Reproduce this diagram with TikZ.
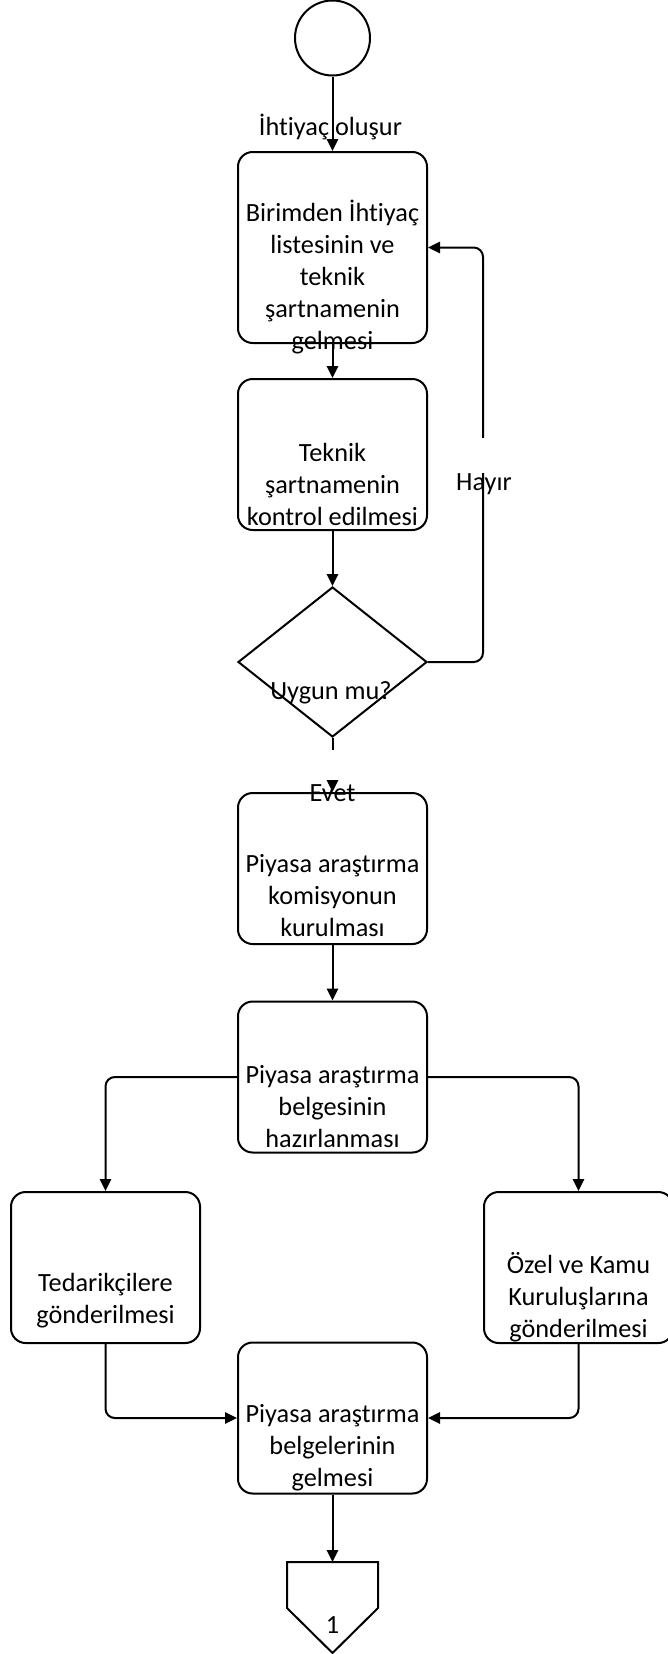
\documentclass[tikz,border=0pt]{standalone}
\usepackage{fontspec}
\setmainfont{Carlito}[Ligatures={NoCommon}]
\usepackage{tikz}
\usetikzlibrary{shapes.geometric,arrows.meta}
\tikzset{
    surec/.style={
        draw=black,
        rectangle,
        rounded corners=11pt,
        minimum width=141.75pt,
        minimum height=113.25pt,
        inner sep=0pt,
        line width=1.5pt
    },
    karar/.style={
        draw=black,
        diamond,
        minimum width=141.75pt,
        minimum height=112.5pt,
        inner sep=0pt,
        line width=1.5pt
    },
    baslangic/.style={
        draw=black,
        circle,
        minimum size=56.25pt,
        inner sep=0pt,
        line width=1.5pt
    },
    yazi/.style={
        align=center,
        font=\fontsize{19.7}{24}\selectfont,
        inner sep=0pt
    },
    ok/.style={
        -{Triangle[length=9pt,width=8.5pt]},
        line width=1.5pt,
        rounded corners=7pt,
        color=black
    },
    bosluk/.style={
        fill=white,
        inner sep=0pt,
        minimum width=6pt
    }
}

\begin{document}
\begin{tikzpicture}[x=0.75pt, y=-0.75pt]
    \useasboundingbox (0,0) rectangle (668,1654);

    % Start
    \node[baslangic] (basla) at (332.5,38) {};

    % Main column
    \node[surec, minimum height=143.25pt] (birim) at (332.5,247.5) {};
    \node[surec] (teknik) at (332.5,454.5) {};
    \node[karar] (uygun) at (332.5,662) {};
    \node[surec] (komisyon) at (332.5,868.5) {};
    \node[surec] (hazirlik) at (332.5,1077) {};

    % Branches
    \node[surec] (tedarik) at (105.5,1267.5) {};
    \node[surec] (kurulus) at (578.5,1267.5) {};
    \node[surec] (belgeler) at (332.5,1418) {};

    % Off-page reference
    \draw[line width=1.5pt] (287,1562) -- (378,1562) -- (378,1608)
        -- (332.5,1653) -- (287,1608) -- cycle;
    \coordinate (sayfa) at (332.5,1562);
    \coordinate (donus) at (483,662);

    % Arrows
    \draw[ok] (basla) -- (birim);
    \draw[ok] (birim) -- (teknik);
    \draw[ok] (teknik) -- (uygun);
    \draw[ok] (uygun.east) -- (donus) |- (birim.east);
    \draw[ok] (uygun) -- (komisyon);
    \draw[ok] (komisyon) -- (hazirlik);
    \draw[ok] (hazirlik.west) -| (tedarik.north);
    \draw[ok] (hazirlik.east) -| (kurulus.north);
    \draw[ok] (tedarik.south) |- (belgeler.west);
    \draw[ok] (kurulus.south) |- (belgeler.east);
    \draw[ok] (belgeler) -- (sayfa);

    % Label gaps
    \node[bosluk, minimum height=26.25pt] (hayirbos) at (483,455.5) {};
    \node[bosluk, minimum height=22.5pt] (evetbos) at (332.5,765) {};

    % Texts
    \node[yazi] (birimT) at (332.5,277) {Birimden İhtiyaç\\listesinin ve\\teknik\\şartnamenin\\gelmesi};
    \node[yazi] (teknikT) at (332.5,484) {Teknik\\şartnamenin\\kontrol edilmesi};
    \node[yazi] (uygunT) at (331,693) {Uygun mu?};
    \node[yazi] (komisyonT) at (332.5,896) {Piyasa araştırma\\komisyonun\\kurulması};
    \node[yazi] (hazirlikT) at (332.5,1107) {Piyasa araştırma\\belgesinin\\hazırlanması};
    \node[yazi] (tedarikT) at (105.5,1301) {Tedarikçilere\\gönderilmesi};
    \node[yazi] (kurulusT) at (578.5,1297) {Özel ve Kamu\\Kuruluşlarına\\gönderilmesi};
    \node[yazi] (belgelerT) at (332.5,1448) {Piyasa araştırma\\belgelerinin\\gelmesi};
    \node[yazi] (bir) at (332.5,1625) {1};

    % Connector labels
    \node[yazi] (ihtiyac) at (330.5,127) {İhtiyaç oluşur};
    \node[yazi] (hayir) at (484,484) {Hayır};
    \node[yazi] (evet) at (332.5,793) {Evet};
\end{tikzpicture}
\end{document}
